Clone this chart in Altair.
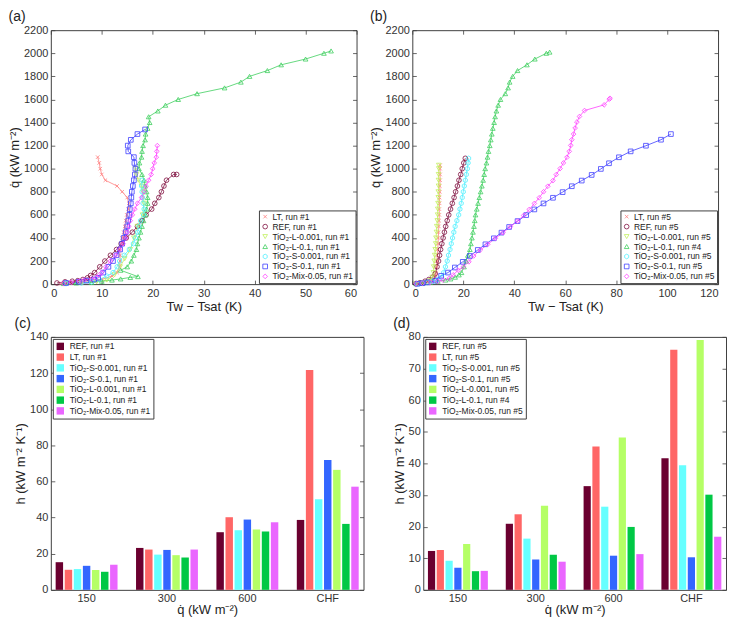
import altair as alt
import pandas as pd

FONT = "Liberation Sans"

# ---------------- Panel (a): boiling curves, run #1 ----------------
a_names = ["LT, run #1", "REF, run #1", "TiO₂-L-0.001, run #1", "TiO₂-L-0.1, run #1",
           "TiO₂-S-0.001, run #1", "TiO₂-S-0.1, run #1", "TiO₂-Mix-0.05, run #1"]

a_LT_T = [2, 4, 6, 8, 10, 12, 13, 13.5, 13.6, 13.6, 13.5, 13.8, 14, 14.3, 14.5, 14.7, 14.9, 15.2, 15.3, 15, 14, 13, 10.7, 10, 9.7, 9.5, 9.2]
a_LT_q = [5, 10, 15, 25, 40, 70, 100, 150, 200, 250, 300, 350, 400, 450, 500, 550, 600, 650, 700, 750, 800, 850, 900, 950, 1000, 1050, 1100]

a_REF_T = [1.2, 2.8, 4.2, 5.3, 6.3, 7.2, 7.8, 8.6, 9.6, 10.6, 11.7, 12.9, 13.8, 14.8, 16, 17, 17.9, 18.7, 19.8, 20.4, 21.2, 21.7, 22.2, 22.7, 24.1, 24.7]
a_REF_q = [10, 20, 25, 30, 40, 55, 75, 100, 150, 200, 250, 300, 350, 400, 450, 500, 550, 600, 650, 700, 750, 800, 850, 900, 950, 950]

a_L001_T = [3, 6, 9, 11, 12.5, 13.6, 14.5, 15.6, 16.3, 17, 18, 18.3, 18.1, 17.8, 17.2, 16.8, 16.6]
a_L001_q = [5, 10, 20, 35, 80, 150, 220, 300, 400, 500, 600, 700, 800, 850, 900, 950, 1000]

a_L01_T = [2.5, 5, 8, 10, 12, 13.7, 15.6, 17.1, 13.7, 15, 15.8, 16.3, 16.8, 17, 17.3, 17.6, 17.9, 18.2, 18.6, 18.8, 19, 19,
           18.8, 18.5, 18.3, 17.9, 17.3, 17.4, 17.8, 17.9, 18.1, 18.5, 18.6, 19, 19.4, 19.2, 21, 22.5, 25, 28.7, 34.1,
           37.3, 39, 42.5, 45.2, 50, 53.6, 55]
a_L01_q = [5, 10, 15, 25, 35, 45, 58, 65, 120, 150, 200, 250, 300, 350, 400, 450, 500, 550, 600, 650, 700, 750,
           800, 850, 900, 950, 1000, 1050, 1100, 1150, 1200, 1250, 1300, 1350, 1400, 1450, 1500, 1550, 1600, 1650, 1700,
           1750, 1800, 1850, 1900, 1950, 2000, 2020]

a_S0001_T = [3, 6, 8, 9.5, 11, 12.2, 13, 13.5, 14.4, 15.4, 16.2, 16.6, 17, 17.3, 17.6, 18.2, 18.3, 18.1, 18, 17.9, 17.8, 17.9]
a_S0001_q = [5, 10, 20, 40, 70, 100, 150, 200, 250, 300, 350, 400, 450, 500, 550, 600, 650, 700, 750, 800, 850, 900]

a_S01_T = [3, 5.5, 7, 8.5, 9.3, 10.3, 11.3, 12.2, 12.9, 13.6, 14, 14.3, 14.7, 15, 15.2, 15.4, 15.5, 15.7, 15.8, 15.9,
           16.1, 16.3, 16.5, 16.6, 16.4, 16.3, 15.2, 15.1, 15.7, 17, 18.5]
a_S01_q = [10, 20, 30, 40, 55, 100, 150, 200, 250, 300, 350, 400, 450, 500, 550, 600, 650, 700, 750, 800,
           850, 900, 950, 1000, 1050, 1100, 1150, 1200, 1250, 1300, 1340]

a_MIX_T = [2.5, 4, 5.5, 6.5, 8, 9, 9.5, 10, 10.8, 11.7, 12.7, 13.5, 14.2, 14.7, 15, 15.3, 15.6, 16, 16.5, 17, 17.8,
           18.3, 18.7, 19.2, 19.7, 20, 20.3, 20.7, 20.8, 20.9]
a_MIX_q = [5, 15, 25, 35, 45, 60, 80, 100, 150, 200, 250, 300, 350, 400, 450, 500, 550, 600, 650, 700, 750,
           800, 850, 900, 950, 1000, 1050, 1100, 1150, 1200]

# ---------------- Panel (b): boiling curves, run #5 ----------------
b_names = ["LT, run #5", "REF, run #5", "TiO₂-L-0.001, run #5", "TiO₂-L-0.1, run #4",
           "TiO₂-S-0.001, run #5", "TiO₂-S-0.1, run #5", "TiO₂-Mix-0.05, run #5"]

b_LT_T = [1.5, 3, 5, 7, 8.5, 9, 9.3, 9.5, 9.7, 9.8, 10, 10.1, 10.2, 10.3, 10.4, 10.5, 10.6, 10.6, 10.7, 10.7, 10.8, 10.8, 10.9, 10.9, 10.9, 10.9]
b_LT_q = [3, 8, 15, 25, 45, 75, 100, 150, 200, 250, 300, 350, 400, 450, 500, 550, 600, 650, 700, 750, 800, 850, 900, 950, 1000, 1030]

b_REF_T = [1.5, 3, 5, 6.5, 8, 9, 9.7, 10.3, 10.7, 11.1, 11.6, 12.1, 12.6, 13.1, 13.7, 14.3, 15, 15.7, 16.4, 17, 17.7, 18.3, 19, 19.6, 20.2, 20.8]
b_REF_q = [5, 12, 25, 40, 60, 90, 150, 200, 250, 300, 350, 400, 450, 500, 550, 600, 650, 700, 750, 800, 850, 900, 950, 1000, 1050, 1090]

b_L001_T = [1.5, 3.5, 5.5, 7, 7.8, 8.3, 8.4, 8.6, 8.8, 9, 9.2, 9.3, 9.5, 9.6, 9.8, 9.95, 10, 10.1, 10.2, 10.2, 10.3, 10.3, 10.3, 10.4, 10.4]
b_L001_q = [3, 8, 15, 30, 60, 100, 150, 200, 250, 300, 350, 400, 450, 500, 550, 600, 650, 700, 750, 800, 850, 900, 950, 1000, 1030]

b_L01_T = [1.5, 4, 7, 10, 13, 15, 16.8, 18.3, 19.3, 20.3, 21.1, 21.8, 22.6, 23, 23.4, 23.8, 24.2, 24.5, 24.8, 25.3,
           25.8, 26.3, 26.8, 27.3, 27.8, 28.2, 28.6, 29.1, 29.5, 29.9, 30.4, 30.8, 31.2, 31.6, 32.1, 32.5, 33, 33.7,
           34.6, 36.5, 37.6, 38.2, 39.4, 41.3, 45, 48.1, 52.6, 53.9]
b_L01_q = [3, 8, 15, 25, 35, 45, 60, 80, 100, 150, 200, 250, 300, 350, 400, 450, 500, 550, 600, 650,
           700, 750, 800, 850, 900, 950, 1000, 1050, 1100, 1150, 1200, 1250, 1300, 1350, 1400, 1450, 1500, 1550,
           1600, 1650, 1700, 1750, 1800, 1850, 1900, 1950, 2000, 2010]

b_S0001_T = [2, 4, 6, 8, 10, 11.5, 12.3, 13, 13.7, 14.2, 14.8, 15.3, 15.8, 16.3, 16.8, 17.5, 18.2, 18.7, 19.2, 19.6, 20, 20.4, 20.8, 21.2, 21.6, 21.9, 22.1]
b_S0001_q = [3, 8, 15, 25, 40, 60, 100, 150, 200, 250, 300, 350, 400, 450, 500, 550, 600, 650, 700, 750, 800, 850, 900, 950, 1000, 1050, 1090]

b_S01_T = [2, 4, 6, 9, 11.3, 14, 16.7, 19.8, 22.6, 25.7, 28.7, 32, 35, 38, 41.3, 44.7, 47.9, 51.5, 55.2, 59, 62.6,
           66.5, 70.4, 74, 77.2, 81.1, 85.7, 91.7, 97.6, 101.5]
b_S01_q = [3, 8, 15, 30, 72, 100, 144, 193, 244, 296, 345, 397, 446, 495, 546, 598, 647, 699, 748, 797, 848,
           897, 946, 998, 1047, 1099, 1150, 1199, 1251, 1300]

b_MIX_T = [1.5, 4, 7, 10, 12, 14.5, 16, 18, 20, 22.2, 24.1, 26.7, 29.6, 32.6, 35.6, 38.5, 41.3, 43.7, 45.9, 47.9,
           49.8, 51.5, 53.2, 55.2, 56.5, 58, 59.3, 60.7, 61.6, 62.2, 62.6, 63.3, 63.9, 64.6, 65.6, 67.6, 75.3, 77.3, 77.6]
b_MIX_q = [3, 8, 15, 25, 35, 50, 80, 120, 150, 193, 244, 296, 345, 397, 446, 498, 546, 595, 647, 699,
           748, 800, 848, 897, 949, 1001, 1050, 1099, 1150, 1202, 1251, 1300, 1352, 1404, 1452, 1504, 1553, 1602, 1610]

# ---------------- Panels (c), (d): heat transfer coefficients ----------------
bar_cats = ["150", "300", "600", "CHF"]
c_names = ["REF, run #1", "LT, run #1", "TiO₂-S-0.001, run #1", "TiO₂-S-0.1, run #1",
           "TiO₂-L-0.001, run #1", "TiO₂-L-0.1, run #1", "TiO₂-Mix-0.05, run #1"]
c_REF = [15.3, 23.2, 31.9, 38.7]
c_LT = [11.1, 22.3, 40.2, 121.7]
c_S0001 = [11.5, 19.5, 33.0, 50.2]
c_S01 = [13.3, 22.1, 38.9, 71.9]
c_L001 = [11.0, 19.2, 33.4, 66.4]
c_L01 = [10.0, 17.9, 32.3, 36.5]
c_MIX = [13.9, 22.3, 37.4, 57.1]

d_names = ["REF, run #5", "LT, run #5", "TiO₂-S-0.001, run #5", "TiO₂-S-0.1, run #5",
           "TiO₂-L-0.001, run #5", "TiO₂-L-0.1, run #4", "TiO₂-Mix-0.05, run #5"]
d_REF = [12.3, 20.9, 32.8, 41.6]
d_LT = [12.6, 23.9, 45.3, 75.9]
d_S0001 = [9.2, 16.2, 26.3, 39.4]
d_S01 = [7.0, 9.6, 10.8, 10.3]
d_L001 = [14.5, 26.6, 48.2, 79.0]
d_L01 = [5.9, 11.1, 19.9, 30.1]
d_MIX = [6.0, 8.9, 11.3, 16.8]

line_colors = ["#ff7f7f", "#7f0f3f", "#c3f060", "#3fcf5f", "#4ff0ff", "#3f3fff", "#ff3fff"]
bar_colors = ["#6b0030", "#ff6666", "#66ffff", "#3366ff", "#b5ff66", "#00c845", "#ea66ff"]
X_PATH = "M-0.75,-0.75L0.75,0.75M-0.75,0.75L0.75,-0.75"
HEX_PATH = "M0,-1L0.87,-0.5L0.87,0.5L0,1L-0.87,0.5L-0.87,-0.5Z"
line_shapes = [X_PATH, "circle", "triangle-down", "triangle-up", HEX_PATH, "square", "diamond"]

TX = "Tw − Tsat (K)"
TQ = "q̇ (kW m⁻²)"
TH = "h (kW m⁻² K⁻¹)"


def curve_frame(names, Ts, qs):
    rows = []
    for name, T, q in zip(names, Ts, qs):
        for i, (t, v) in enumerate(zip(T, q)):
            rows.append({"s": name, "T": t, "q": v, "i": i})
    return pd.DataFrame(rows)


def bar_frame(names, series):
    rows = []
    for k, (name, vals) in enumerate(zip(names, series)):
        for c, v in zip(bar_cats, vals):
            rows.append({"s": name, "k": k, "c": c, "v": v})
    return pd.DataFrame(rows)


def panel_title(t):
    return alt.TitleParams(t, anchor="start", frame="bounds", fontSize=14, fontWeight="normal",
                           font=FONT, color="#222222", offset=0)


def line_panel(df, names, title, xmax, xstep, W, H):
    leg = alt.Legend(title=None, orient="bottom-right", offset=1, labelFontSize=8.5, labelFont=FONT,
                     labelColor="#222222", symbolSize=22, symbolStrokeWidth=0.8, fillColor="white",
                     strokeColor="#404040", padding=2, rowPadding=1.0, labelOffset=3)
    color = alt.Color("s:N", scale=alt.Scale(domain=names, range=line_colors), legend=leg)
    shape = alt.Shape("s:N", scale=alt.Scale(domain=names, range=line_shapes), legend=leg)
    x = alt.X("T:Q", scale=alt.Scale(domain=[0, xmax], nice=False),
              axis=alt.Axis(values=list(range(0, xmax + 1, xstep)), title=TX, format="d",
                            gridDash=[4, H - 8, 4]))
    y = alt.Y("q:Q", scale=alt.Scale(domain=[0, 2200], nice=False),
              axis=alt.Axis(values=list(range(0, 2201, 200)), title=TQ, format="d",
                            gridDash=[4, W - 8, 4]))
    lines = alt.Chart(df).mark_line(strokeWidth=0.8).encode(x=x, y=y, color=color, order="i:Q")
    pts = alt.Chart(df).mark_point(filled=False, size=22, strokeWidth=0.8, opacity=1).encode(
        x=x, y=y, color=color, shape=shape)
    return alt.layer(lines, pts).properties(width=W, height=H, title=panel_title(title))


def bar_panel(df, names, title, ymax, ystep, W, H):
    x = alt.X("c:N", scale=alt.Scale(domain=bar_cats, paddingInner=0.23, paddingOuter=0.06),
              axis=alt.Axis(title=TQ, labelAngle=0, grid=False, titlePadding=0))
    xo = alt.XOffset("k:O", scale=alt.Scale(paddingInner=0.18, paddingOuter=0))
    y = alt.Y("v:Q", scale=alt.Scale(domain=[0, ymax], nice=False),
              axis=alt.Axis(values=list(range(0, ymax + 1, ystep)), title=TH, format="d",
                            gridDash=[4, W - 8, 4]))
    color = alt.Color("s:N", scale=alt.Scale(domain=names, range=bar_colors),
                      legend=alt.Legend(title=None, orient="top-left", offset=2, labelFontSize=8.5,
                                        labelFont=FONT, labelColor="#222222", symbolType="square",
                                        symbolSize=55, fillColor="white", strokeColor="#404040",
                                        padding=3, rowPadding=1.8, labelOffset=5))
    return alt.Chart(df).mark_bar().encode(x=x, xOffset=xo, y=y, color=color).properties(
        width=W, height=H, title=panel_title(title))


dfa = curve_frame(a_names, [a_LT_T, a_REF_T, a_L001_T, a_L01_T, a_S0001_T, a_S01_T, a_MIX_T],
                  [a_LT_q, a_REF_q, a_L001_q, a_L01_q, a_S0001_q, a_S01_q, a_MIX_q])
dfb = curve_frame(b_names, [b_LT_T, b_REF_T, b_L001_T, b_L01_T, b_S0001_T, b_S01_T, b_MIX_T],
                  [b_LT_q, b_REF_q, b_L001_q, b_L01_q, b_S0001_q, b_S01_q, b_MIX_q])
dfc = bar_frame(c_names, [c_REF, c_LT, c_S0001, c_S01, c_L001, c_L01, c_MIX])
dfd = bar_frame(d_names, [d_REF, d_LT, d_S0001, d_S01, d_L001, d_L01, d_MIX])

pa = line_panel(dfa, a_names, "(a)", 60, 10, 307, 255)
pb = line_panel(dfb, b_names, "(b)", 120, 20, 307, 255)
pc = bar_panel(dfc, c_names, "(c)", 140, 20, 314, 254)
pd_ = bar_panel(dfd, d_names, "(d)", 80, 10, 304, 254)

top = alt.hconcat(pa, pb, spacing=12).resolve_scale(color="independent", shape="independent")
bottom = alt.hconcat(pc, pd_, spacing=28).resolve_scale(color="independent", xOffset="independent")
chart = alt.vconcat(top, bottom, spacing=2).resolve_scale(
    color="independent", shape="independent", xOffset="independent"
).properties(padding=0).configure(
    font=FONT, background="white"
).configure_view(
    stroke="#404040", strokeWidth=1
).configure_axis(
    domain=False, ticks=False, labelFont=FONT, labelFontSize=11, labelColor="#333333", labelPadding=3,
    titleFont=FONT, titleFontSize=13, titleFontWeight="normal", titleColor="#222222", titlePadding=2,
    grid=True, gridColor="#404040", gridWidth=0.8, gridOpacity=1
)

chart.save("out.html", embed_options={"renderer": "svg", "actions": False})
